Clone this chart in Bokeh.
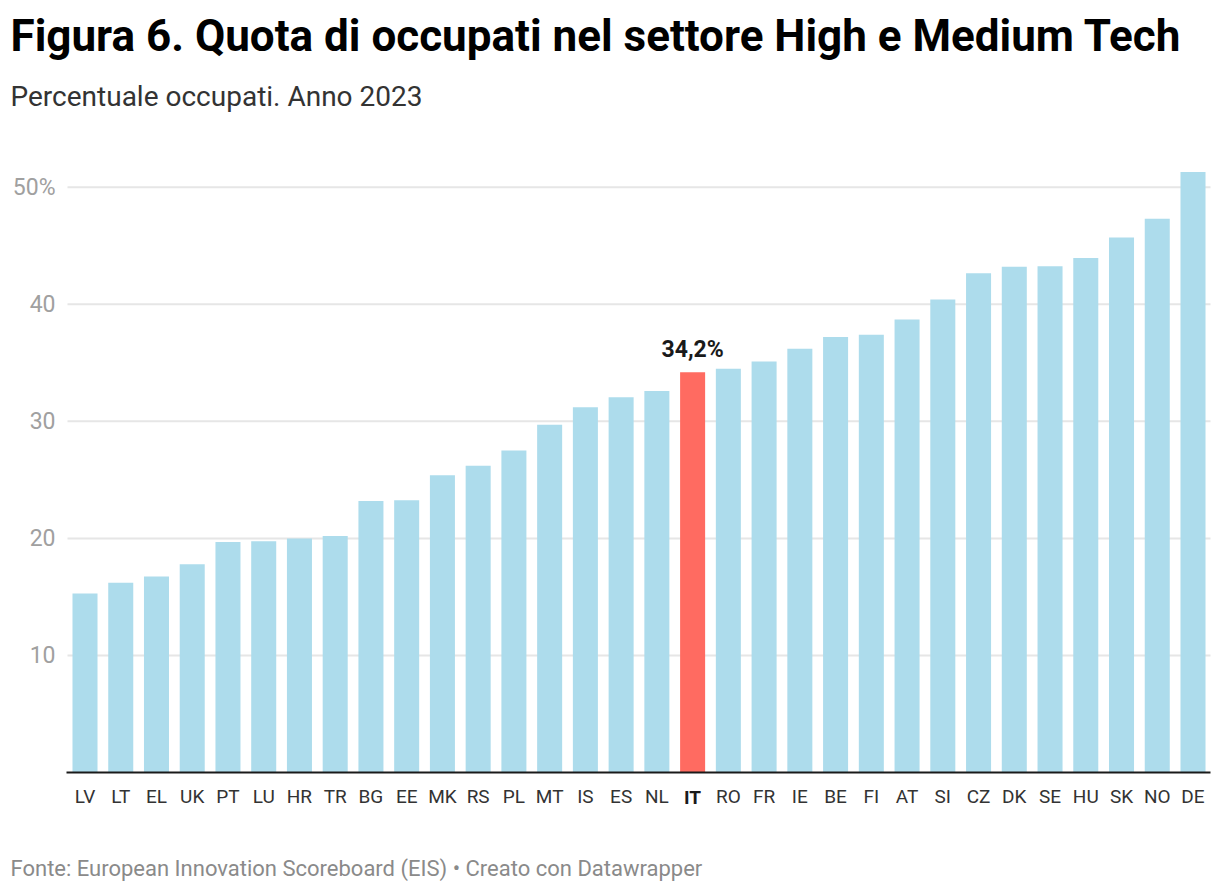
from bokeh.plotting import figure
from bokeh.models import Range1d, FixedTicker, Label, ColumnDataSource
from bokeh.embed import file_html
from bokeh.resources import INLINE

# ---- data ----
countries = ["LV", "LT", "EL", "UK", "PT", "LU", "HR", "TR", "BG", "EE", "MK", "RS",
             "PL", "MT", "IS", "ES", "NL", "IT", "RO", "FR", "IE", "BE", "FI", "AT",
             "SI", "CZ", "DK", "SE", "HU", "SK", "NO", "DE"]
values = [15.3, 16.2, 16.75, 17.8, 19.7, 19.75, 20.0, 20.2, 23.2, 23.25, 25.4, 26.2,
          27.5, 29.7, 31.2, 32.05, 32.6, 34.2, 34.5, 35.1, 36.2, 37.2, 37.4, 38.7,
          40.4, 42.65, 43.2, 43.25, 43.95, 45.7, 47.3, 51.3]
highlight = "IT"
y_ticks = [10, 20, 30, 40, 50]
y_tick_labels = ["10", "20", "30", "40", "50%"]

title = "Figura 6. Quota di occupati nel settore High e Medium Tech"
subtitle = "Percentuale occupati. Anno 2023"
footer = "Fonte: European Innovation Scoreboard (EIS) \u2022 Creato con Datawrapper"

FONT = "Roboto"
BLUE = "#addcec"
RED = "#ff6b61"

xs = list(range(len(countries)))
colors = [RED if c == highlight else BLUE for c in countries]
src = ColumnDataSource(dict(x=xs, top=values, color=colors, code=countries))

# ---- layout geometry (pixels) ----
W, H = 1220, 892
STEP = 35.742          # pixels per category
X0 = 84.5              # pixel column of first category centre
PX = 11.706            # pixels per percentage point
Y0 = 772               # pixel row of y = 0
PLOT_L, PLOT_R = 67, 1210


def xd(px):            # pixel column -> data x
    return (px - X0) / STEP


p = figure(width=W, height=H, output_backend="svg", toolbar_location=None,
           x_range=Range1d(xd(0), xd(W)),
           y_range=Range1d(-(H - Y0) / PX, Y0 / PX),
           min_border=0, min_border_left=0, min_border_right=0,
           min_border_top=0, min_border_bottom=0)
p.outline_line_color = None
p.background_fill_color = "white"
p.border_fill_color = "white"
p.xgrid.grid_line_color = None
p.ygrid.grid_line_color = None

# horizontal grid lines at the y ticks
n = len(y_ticks)
p.segment(x0=[xd(PLOT_L)] * n, x1=[xd(PLOT_R)] * n, y0=y_ticks, y1=y_ticks,
          line_color="#e6e6e6", line_width=2, level="underlay")

p.vbar(x="x", top="top", width=0.70, bottom=0, color="color", line_color=None, source=src)

# x axis at y = 0
p.xaxis.fixed_location = 0
p.xaxis.bounds = (xd(PLOT_L - 1), xd(PLOT_R))
p.xaxis.ticker = FixedTicker(ticks=xs)
p.xaxis.major_label_overrides = {i: ("" if c == highlight else c) for i, c in enumerate(countries)}
p.xaxis.major_label_text_font = FONT
p.xaxis.major_label_text_font_size = "19px"
p.xaxis.major_label_text_color = "#333333"
p.xaxis.major_label_standoff = 12
p.xaxis.major_tick_out = 0
p.xaxis.major_tick_in = 0
p.xaxis.major_tick_line_color = None
p.xaxis.minor_tick_line_color = None
p.xaxis.axis_line_color = "#1a1a1a"
p.xaxis.axis_line_width = 2

# y axis at the left edge of the plot area
p.yaxis.fixed_location = xd(PLOT_L)
p.yaxis.ticker = FixedTicker(ticks=y_ticks)
p.yaxis.major_label_overrides = {t: l for t, l in zip(y_ticks, y_tick_labels)}
p.yaxis.major_label_text_font = FONT
p.yaxis.major_label_text_font_size = "23px"
p.yaxis.major_label_text_color = "#a0a0a0"
p.yaxis.major_label_standoff = 12
p.yaxis.major_tick_out = 0
p.yaxis.major_tick_in = 0
p.yaxis.major_tick_line_color = None
p.yaxis.minor_tick_line_color = None
p.yaxis.axis_line_color = None

C = 0.29  # baseline correction (fraction of font size)

# bold label for highlighted category
hi = countries.index(highlight)
p.add_layout(Label(x=hi, y=0, y_offset=-30.5 + C * 19, text=highlight,
                   text_font=FONT, text_font_style="bold", text_font_size="19px",
                   text_color="#1a1a1a", text_align="center", text_baseline="alphabetic"))

# value annotation on highlighted bar
val_txt = f"{values[hi]:.1f}".replace(".", ",") + "%"
p.add_layout(Label(x=hi, y=values[hi], y_offset=16 + C * 23, text=val_txt,
                   text_font=FONT, text_font_style="bold", text_font_size="23px",
                   text_color="#1a1a1a", text_align="center", text_baseline="alphabetic"))

# title, subtitle, footer
p.add_layout(Label(x=10, y=H - 48 + C * 44, x_units="screen", y_units="screen", text=title,
                   text_font=FONT, text_font_style="bold", text_font_size="44px",
                   text_color="#000000", text_baseline="alphabetic"))
p.add_layout(Label(x=10, y=H - 104 + C * 28, x_units="screen", y_units="screen", text=subtitle,
                   text_font=FONT, text_font_size="28px",
                   text_color="#333333", text_baseline="alphabetic"))
p.add_layout(Label(x=10, y=H - 874 + C * 22, x_units="screen", y_units="screen", text=footer,
                   text_font=FONT, text_font_size="22px",
                   text_color="#8a8a8a", text_baseline="alphabetic"))

open("out.html", "w").write(file_html(p, INLINE))
